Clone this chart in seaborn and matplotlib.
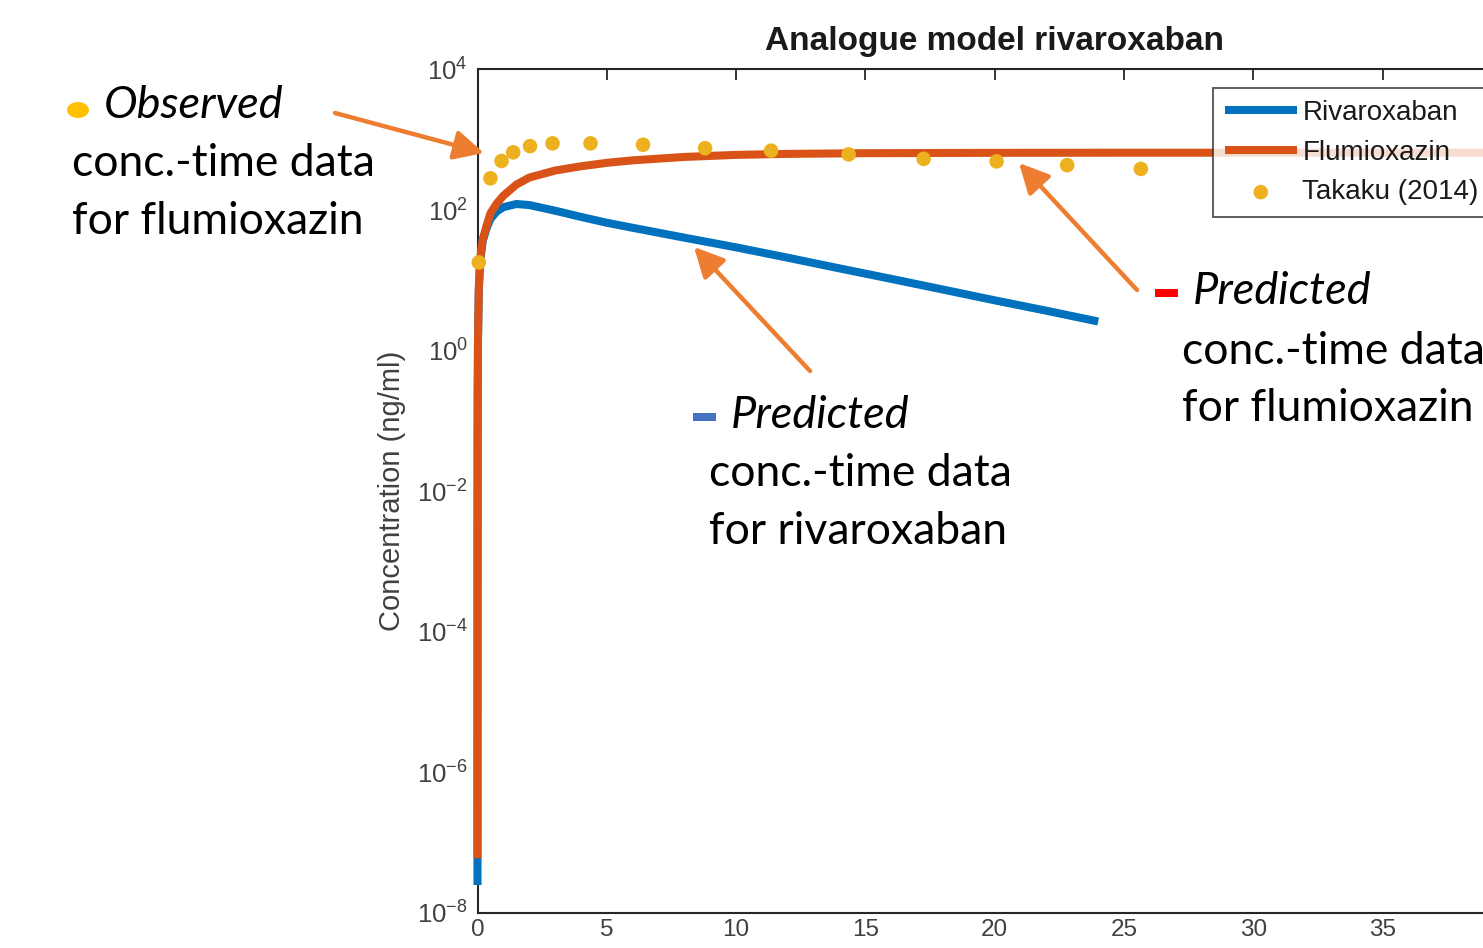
import numpy as np
import pandas as pd
import matplotlib
matplotlib.use("Agg")
import matplotlib.pyplot as plt
import matplotlib.ticker as mticker
from matplotlib.patches import Rectangle, Ellipse, FancyArrowPatch
import seaborn as sns

# ---------------- data ----------------
t_riva = [0, 0.002, 0.005, 0.01, 0.02, 0.05, 0.1, 0.2, 0.35, 0.5, 0.75, 1.0, 1.5,
          2, 3, 4, 5, 6, 8, 10, 12, 14, 16, 18, 20, 22, 24]
c_riva = [2.5e-8, 1e-3, 0.05, 0.3, 1.5, 7, 18, 36, 55, 75, 96, 110, 122,
          118, 98, 80, 66, 56, 40.5, 29.5, 21, 14.8, 10.5, 7.4, 5.2, 3.7, 2.6]

t_flu = [0, 0.002, 0.005, 0.01, 0.02, 0.05, 0.1, 0.2, 0.35, 0.5, 0.75, 1, 1.5,
         2, 3, 4, 5, 6, 8, 10, 12, 15, 20, 25, 30, 35, 40]
c_flu = [6e-8, 1e-3, 0.05, 0.3, 1.5, 8, 20, 38, 60, 90, 125, 160, 230,
         290, 365, 420, 470, 510, 570, 610, 630, 645, 652, 655, 655, 655, 655]

t_obs = [0.05, 0.5, 0.93, 1.38, 2.03, 2.9, 4.37, 6.4, 8.8, 11.35, 14.35, 17.25, 20.07, 22.8, 25.65]
c_obs = [18, 283, 500, 663, 813, 890, 890, 850, 760, 700, 620, 535, 493, 436, 385]

series_labels = ["Rivaroxaban", "Flumioxazin", "Takaku (2014)"]
title_text = "Analogue model rivaroxaban"
ylabel_text = "Concentration (ng/ml)"
x_ticks = [0, 5, 10, 15, 20, 25, 30, 35]

# ---------------- style ----------------
sns.set_theme(style="white")
plt.rcParams["font.family"] = ["Liberation Sans", "DejaVu Sans"]
plt.rcParams["mathtext.fontset"] = "custom"
plt.rcParams["mathtext.rm"] = "Liberation Sans"
plt.rcParams["mathtext.it"] = "Liberation Sans:italic"

W, H = 1483, 948
fig = plt.figure(figsize=(W / 100, H / 100), dpi=100)
fig.patch.set_facecolor("white")

ax_left, ax_right, ax_top, ax_bot = 477.5, 1512, 69.5, 913
ax = fig.add_axes([ax_left / W, 1 - ax_bot / H, (ax_right - ax_left) / W, (ax_bot - ax_top) / H])

blue = "#0072BD"
orange = "#D95319"
yellow = "#EDB120"

df_r = pd.DataFrame({"t": t_riva, "c": c_riva})
df_f = pd.DataFrame({"t": t_flu, "c": c_flu})
df_o = pd.DataFrame({"t": t_obs, "c": c_obs})

sns.lineplot(data=df_r, x="t", y="c", ax=ax, color=blue, linewidth=5.8,
             label=series_labels[0], solid_capstyle="butt", clip_on=False, zorder=4)
sns.lineplot(data=df_f, x="t", y="c", ax=ax, color=orange, linewidth=5.8,
             label=series_labels[1], solid_capstyle="butt", clip_on=False, zorder=4.5)
sns.scatterplot(data=df_o, x="t", y="c", ax=ax, color=yellow, s=110,
                edgecolor="none", label=series_labels[2], zorder=5, clip_on=False)

ax.set_yscale("log")
ax.set_xlim(0, 40)
ax.set_ylim(1e-8, 1e4)
ax.set_xticks(x_ticks)
ax.xaxis.set_minor_locator(mticker.NullLocator())
ax.yaxis.set_major_locator(mticker.FixedLocator([10.0 ** k for k in range(-8, 5, 2)]))
ax.yaxis.set_major_formatter(mticker.FuncFormatter(lambda v, p: r"$10^{%d}$" % round(np.log10(v))))
ax.yaxis.set_minor_locator(mticker.LogLocator(base=10, subs=np.arange(1, 10), numticks=100))
ax.yaxis.set_minor_formatter(mticker.NullFormatter())

tick_col = "#404040"
ax.tick_params(axis="both", which="major", direction="in", length=8, width=1.3,
               colors="#262626", labelcolor=tick_col, labelsize=18.5, top=True, right=True)
ax.tick_params(axis="y", which="minor", direction="in", length=4, width=1.0,
               colors="#262626", right=True)
ax.tick_params(axis="x", which="major", pad=4, labelsize=17.5)
ax.tick_params(axis="y", which="major", pad=7)
for s in ax.spines.values():
    s.set_color("#262626")
    s.set_linewidth(1.5)

ax.set_xlabel("")
ax.set_ylabel(ylabel_text, fontsize=21, color=tick_col, labelpad=8)
ax.set_title(title_text, fontsize=24, fontweight="bold", color="#1a1a1a", pad=14)

leg = ax.legend(loc="upper left", bbox_to_anchor=(1213 / W, 1 - 88 / H),
                bbox_transform=fig.transFigure, frameon=True, fancybox=False,
                fontsize=20, handlelength=2.6, handletextpad=0.2, labelspacing=0.5,
                borderpad=0.42, borderaxespad=0)
leg.get_frame().set_edgecolor("#262626")
leg.get_frame().set_linewidth(1.3)
leg.set_zorder(10)
for txt in leg.get_texts():
    txt.set_color("#1a1a1a")

# ---------------- slide annotations ----------------
ann_font = ["Lato", "DejaVu Sans"]
ann_size = 32
arrow_col = "#ED7D31"


def fx(x):
    return x / W


def fy(y):
    return 1 - y / H


def label_block(x_head, y_head, x_body, y_body, y_body2, head, body):
    fig.text(fx(x_head), fy(y_head), head, fontsize=ann_size + 0.5,
             style="italic", family=ann_font, va="center", ha="left", color="black")
    fig.text(fx(x_body), fy(y_body), body[0], fontsize=ann_size, family=ann_font,
             va="center", ha="left", color="black")
    fig.text(fx(x_body), fy(y_body2), body[1], fontsize=ann_size, family=ann_font,
             va="center", ha="left", color="black")


# Observed
fig.patches.append(Ellipse((fx(78), fy(110)), 22 / W, 16 / H, transform=fig.transFigure,
                           facecolor="#FFC000", edgecolor="none"))
label_block(104, 106, 72, 164, 221, "Observed", ["conc.-time data", "for flumioxazin"])

# Predicted rivaroxaban
fig.patches.append(Rectangle((fx(693), fy(421)), 23 / W, 8 / H, transform=fig.transFigure,
                             facecolor="#4472C4", edgecolor="none"))
label_block(731, 416, 709, 474, 531, "Predicted", ["conc.-time data", "for rivaroxaban"])

# Predicted flumioxazin
fig.patches.append(Rectangle((fx(1155), fy(297)), 23 / W, 8 / H, transform=fig.transFigure,
                             facecolor="#FF0000", edgecolor="none"))
label_block(1193, 292, 1182, 351, 408, "Predicted", ["conc.-time data", "for flumioxazin"])

arrow_props = dict(arrowstyle="-|>,head_length=0.9,head_width=0.45", color=arrow_col,
                   lw=3.2, shrinkA=0, shrinkB=0)
for (x0, y0, x1, y1) in [(335, 113, 484, 153), (810, 371, 694, 247), (1137, 290, 1019, 163)]:
    fig.add_artist(FancyArrowPatch((fx(x0), fy(y0)), (fx(x1), fy(y1)),
                                   transform=fig.transFigure, zorder=20,
                                   **arrow_props, mutation_scale=20))

fig.savefig("out.png", dpi=100, facecolor="white")
